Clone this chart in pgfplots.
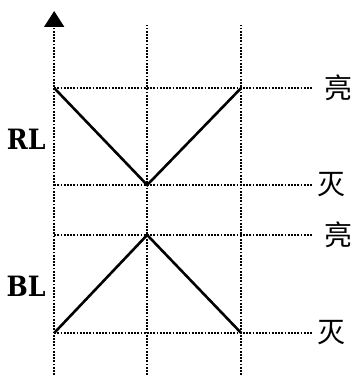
\documentclass[border=0pt]{standalone}
\usepackage{fontspec}
\setmainfont{Liberation Serif}
\newfontfamily\lblfont{DejaVu Serif Condensed}
\newfontfamily\cjk{Noto Sans CJK SC}
\usepackage{pgfplots}
\pgfplotsset{compat=1.18}
\usetikzlibrary{arrows.meta}

\begin{document}
\begin{tikzpicture}
\begin{axis}[
  width=176.5pt, height=189.5pt,
  scale only axis,
  xmin=0, xmax=353, ymin=0, ymax=379,
  hide axis,
  clip=false,
  guide/.style={black, line width=0.9pt, dash pattern=on 0.9pt off 0.7pt, forget plot},
]
\path (rel axis cs:0,0) rectangle (rel axis cs:1,1);
% dotted guides
\addplot[guide] coordinates {(53,4) (53,358)};
\addplot[guide] coordinates {(146,4) (146,354)};
\addplot[guide] coordinates {(240,4) (240,354)};
\addplot[guide] coordinates {(53,291) (312,291)};
\addplot[guide] coordinates {(53,194) (312,194)};
\addplot[guide] coordinates {(53,144) (312,144)};
\addplot[guide] coordinates {(53,46) (312,46)};
\draw[-{Triangle[length=8pt,width=10pt]}, black, line width=0.9pt]
  (axis cs:53,354) -- (axis cs:53,368);
% signals
\addplot[black, line width=1.3pt, mark=none] coordinates {(53,291) (146,194) (240,291)};
\addplot[black, line width=1.3pt, mark=none] coordinates {(53,46) (146,144) (240,46)};
% labels
\node[font=\lblfont\fontsize{14}{14}\selectfont\bfseries] at (axis cs:25,240) {RL};
\node[font=\lblfont\fontsize{14}{14}\selectfont\bfseries] at (axis cs:25,93) {BL};
\node[anchor=west, inner sep=0pt, font=\cjk\fontsize{14}{14}\selectfont] at (axis cs:323,291) {亮};
\node[anchor=west, inner sep=0pt, font=\cjk\fontsize{14}{14}\selectfont] at (axis cs:316,194) {灭};
\node[anchor=west, inner sep=0pt, font=\cjk\fontsize{14}{14}\selectfont] at (axis cs:323,144) {亮};
\node[anchor=west, inner sep=0pt, font=\cjk\fontsize{14}{14}\selectfont] at (axis cs:316,46) {灭};
\end{axis}
\end{tikzpicture}
\end{document}
